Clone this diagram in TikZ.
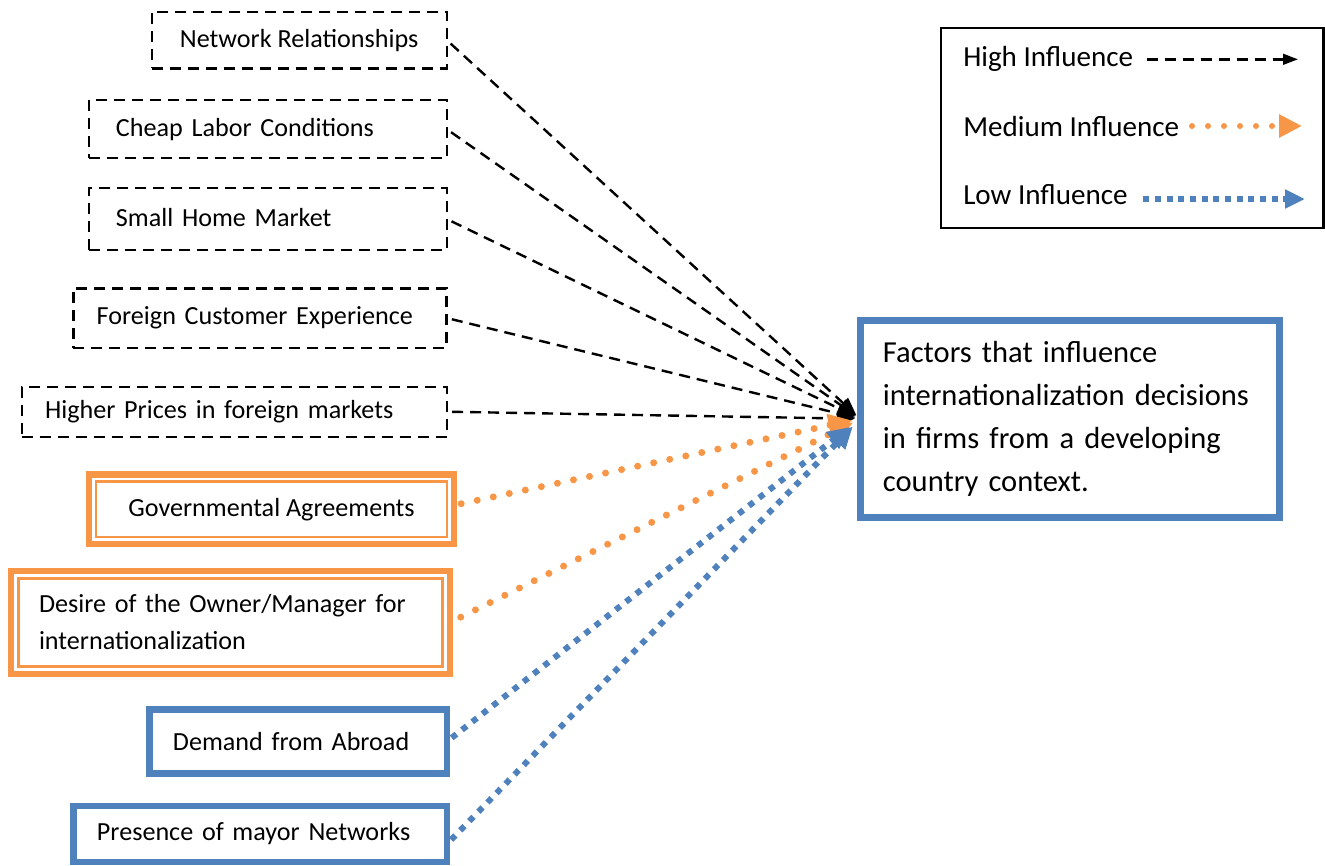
\documentclass[tikz,border=0pt]{standalone}
\usepackage{fontspec}
\setmainfont{Carlito}
\usetikzlibrary{arrows.meta}
\definecolor{accblue}{HTML}{4F81BD}
\definecolor{accorange}{HTML}{F79646}
\begin{document}
\begin{tikzpicture}[x=0.75pt,y=-0.75pt,
  boxtext/.style={inner ysep=0pt, outer sep=0pt, font={\fontsize{19.6}{27.75}\selectfont}},
  hibox/.style={boxtext, draw=black, line width=1.8pt, dash pattern=on 8.25pt off 5.25pt},
  medbox/.style={boxtext, draw=accorange, line width=4.9pt},
  medinner/.style={draw=accorange, line width=1.9pt},
  lowbox/.style={boxtext, draw=accblue, line width=5pt},
  goalbox/.style={draw=accblue, line width=5.25pt, inner ysep=0pt, outer sep=0pt,
    font={\fontsize{22.9}{32.25}\selectfont}},
  hiline/.style={black, line width=1.8pt, dash pattern=on 8.25pt off 5.25pt,
    -{Triangle[length=13.5pt,width=10.5pt]}},
  medline/.style={accorange, line width=5.25pt, line cap=round, dash pattern=on 0pt off 12.3pt,
    -{Triangle[length=18pt,width=16.5pt]}},
  lowline/.style={accblue, line width=4.5pt, dash pattern=on 4.5pt off 5.25pt,
    -{Triangle[length=16.5pt,width=15pt]}},
  keytext/.style={anchor=west, inner sep=0pt, font={\fontsize{21.8}{26}\selectfont}},
]
\useasboundingbox (0,0) rectangle (1325,865);

% factor boxes, high influence (dashed)
\node[hibox, minimum width=221.25pt, minimum height=42.45pt] (nr) at (299.2,40) {\strut Network Relationships};
\node[hibox, minimum height=43.7pt, text width=227.8pt, inner xsep=20.25pt, align=left] (cl) at (267.85,129.15) {Cheap Labor Conditions};
\node[hibox, minimum height=46.5pt, text width=227.8pt, inner xsep=20.25pt, align=left] (sh) at (267.85,219) {\raisebox{3pt}{Small Home Market}};
\node[hibox, minimum height=44.55pt, text width=244.9pt, inner xsep=17.55pt, align=left] (fc) at (260,318) {Foreign Customer Experience};
\node[hibox, minimum height=37.5pt, text width=283.75pt, inner xsep=17.5pt, align=left] (hp) at (234.2,411.7) {Higher Prices in foreign markets};

% medium influence (double orange frame)
\node[medbox, minimum width=273.75pt, minimum height=52.1pt] (ga) at (271.5,509.25) {Governmental Agreements};
\node[medbox, minimum height=77.25pt, text width=287.25pt, inner xsep=21pt, align=left] (dm) at (230.5,622.5) {Desire of the Owner/Manager for\\internationalization};
\draw[medinner] ([shift={(5.4pt,-5.4pt)}]ga.north west) rectangle ([shift={(-5.4pt,5.4pt)}]ga.south east);
\draw[medinner] ([shift={(5.6pt,-5.8pt)}]dm.north west) rectangle ([shift={(-5.8pt,5.8pt)}]dm.south east);

% low influence (blue frame)
\node[lowbox, minimum height=48pt, text width=187.9pt, inner xsep=17.6pt, align=left] (da) at (298.25,741.5) {Demand from Abroad};
\node[lowbox, minimum height=42pt, text width=244.9pt, inner xsep=17.6pt, align=left] (pm) at (260.25,834) {\raisebox{-2pt}{Presence of mayor Networks}};

% central box
\node[goalbox, minimum height=147.75pt, text width=280.25pt, inner xsep=17pt, align=left] (goal) at (1069.8,418.8)
  {Factors that influence\\internationalization decisions\\in firms from a developing\\country context.};

% connectors
\draw[hiline, shorten <=4pt, shorten >=4pt] (nr.east) -- (goal.west);
\draw[hiline, shorten <=4pt, shorten >=4pt] (cl.east) -- (goal.west);
\draw[hiline, shorten <=4pt, shorten >=4pt] (sh.east) -- (goal.west);
\draw[hiline, shorten <=4pt, shorten >=4pt] (fc.east) -- (goal.west);
\draw[hiline, shorten <=4pt, shorten >=4pt] (hp.east) -- (goal.west);
\draw[medline, shorten <=5.5pt, shorten >=6pt] ([yshift=3pt]ga.east) -- (goal.west);
\draw[medline, shorten <=9pt, shorten >=6pt] (dm.east) -- (goal.west);
\draw[lowline, shorten <=4.5pt, shorten >=10pt] (da.east) -- (goal.west);
\draw[lowline, shorten <=4.5pt, shorten >=8pt] ([yshift=-7.5pt]pm.east) -- (goal.west);

% legend
\node[draw, line width=1.7pt, minimum width=286.65pt, minimum height=150pt, inner sep=0pt, outer sep=0pt] (key) at (1132.4,127.8) {};
\node[keytext] (khi) at (963,59) {High Influence};
\node[keytext] (kmed) at (963,127) {Medium Influence};
\node[keytext] (klow) at (963,195) {Low Influence};
\coordinate (hiA) at (1146.7,59.3);
\coordinate (hiB) at (1298,59.3);
\coordinate (medA) at (1192,126);
\coordinate (medB) at (1302,126);
\coordinate (lowA) at (1143.3,199);
\coordinate (lowB) at (1305,199);
\draw[hiline, -{Triangle[length=11.25pt,width=8pt]}] (hiA) -- (hiB);
\draw[medline, line width=4.5pt, dash pattern=on 0pt off 12pt, -{Triangle[length=17.25pt,width=16.5pt]}] (medA) -- (medB);
\draw[lowline, dash pattern=on 4.5pt off 4.25pt, -{Triangle[length=15pt,width=13.5pt]}] (lowA) -- (lowB);
\end{tikzpicture}
\end{document}
